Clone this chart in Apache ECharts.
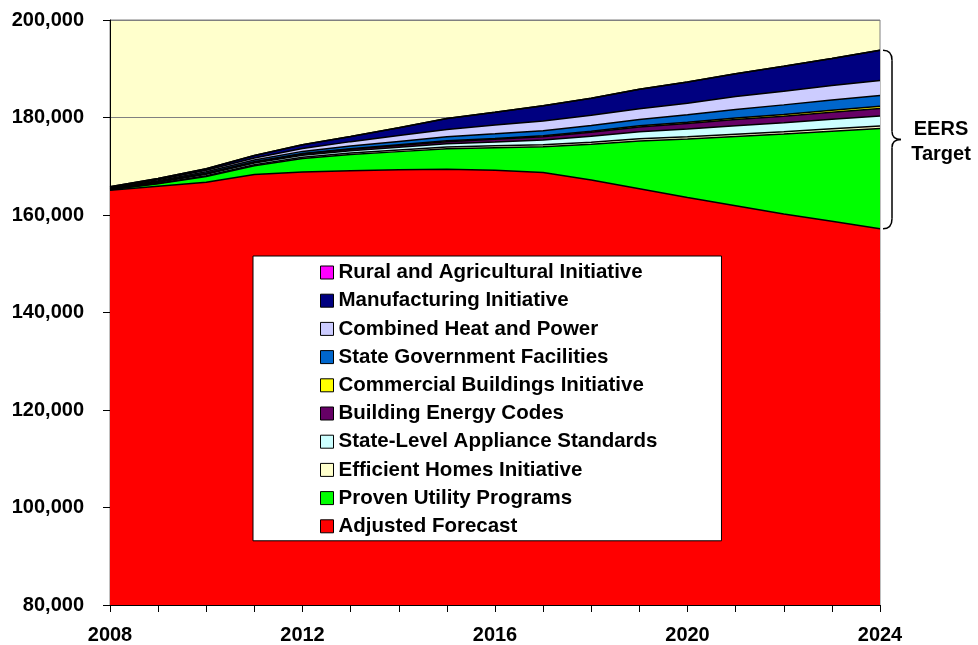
<!DOCTYPE html>
<html>
<head>
<meta charset="utf-8">
<script src="https://cdn.jsdelivr.net/npm/echarts@6/dist/echarts.min.js"></script>
<style>
  html, body { margin: 0; padding: 0; background: #fff; }
  #chart { width: 978px; height: 645px; }
</style>
</head>
<body>
<div id="chart"></div>
<script>
// data (stacked)
const years = ["2008", "2009", "2010", "2011", "2012", "2013", "2014", "2015", "2016",
  "2017", "2018", "2019", "2020", "2021", "2022", "2023", "2024"];
const adjustedForecast = [165100, 165900, 166700, 168300, 168800, 169100, 169300, 169400, 169200,
  168700, 167200, 165400, 163600, 161900, 160200, 158700, 157200];
const provenUtility = [100, 500, 1200, 1800, 2800, 3300, 3700, 4200, 4600,
  5300, 7300, 9800, 12000, 14200, 16400, 18500, 20550];
const efficientHomes = [50, 100, 150, 200, 250, 300, 320, 350, 380, 400, 420, 450, 460, 470, 480, 490, 500];
const applianceStandards = [100, 200, 300, 350, 400, 480, 560, 650, 800, 1000, 1250, 1450, 1600, 1750, 1850, 1950, 2050];
const buildingCodes = [50, 100, 150, 200, 250, 300, 380, 450, 550, 650, 800, 950, 1100, 1250, 1350, 1450, 1550];
const commercialBuildings = [20, 40, 60, 80, 100, 120, 140, 160, 180, 200, 220, 250, 280, 320, 360, 400, 450];
const stateGovernment = [100, 200, 300, 350, 450, 550, 700, 850, 950, 1050, 1150, 1300, 1500, 1750, 1950, 2100, 2200];
const combinedHeatPower = [100, 200, 300, 400, 600, 900, 1200, 1500, 1800, 2000, 2100, 2200, 2400, 2650, 2800, 2950, 3100];
const manufacturing = [180, 260, 340, 520, 750, 1050, 1600, 2240, 2600, 3100, 3500, 4000, 4350, 4700, 5100, 5550, 6200];
const ruralAgricultural = [0, 0, 0, 0, 0, 0, 0, 0, 0, 0, 0, 0, 0, 0, 0, 0, 0];

// bottom to top in the stack
const layers = [
  { name: "Adjusted Forecast", data: adjustedForecast, color: "#FF0000" },
  { name: "Proven Utility Programs", data: provenUtility, color: "#00FF00" },
  { name: "Efficient Homes Initiative", data: efficientHomes, color: "#FFFFCC" },
  { name: "State-Level Appliance Standards", data: applianceStandards, color: "#CCFFFF" },
  { name: "Building Energy Codes", data: buildingCodes, color: "#660066" },
  { name: "Commercial Buildings Initiative", data: commercialBuildings, color: "#FFFF00" },
  { name: "State Government Facilities", data: stateGovernment, color: "#0066CC" },
  { name: "Combined Heat and Power", data: combinedHeatPower, color: "#CCCCFF" },
  { name: "Manufacturing Initiative", data: manufacturing, color: "#000080" },
  { name: "Rural and Agricultural Initiative", data: ruralAgricultural, color: "#FF00FF" },
];

const font = "'Liberation Sans', Arial, sans-serif";
const chart = echarts.init(document.getElementById("chart"));

const option = {
  animation: false,
  backgroundColor: "#fff",
  grid: {
    left: 110, right: 98, top: 20, bottom: 40,
    show: true, backgroundColor: "#FFFFCC", borderColor: "#808080", borderWidth: 1,
  },
  legend: {
    orient: "vertical",
    left: 253,
    top: 256,
    data: layers.map((l) => l.name).reverse(),
    backgroundColor: "#fff",
    borderColor: "#000",
    borderWidth: 1,
    padding: [6, 64, 4, 67],
    itemWidth: 13,
    itemHeight: 13,
    itemGap: 7.2,
    itemStyle: { borderColor: "#000", borderWidth: 1 },
    icon: "rect",
    textStyle: { fontFamily: font, fontWeight: "bold", fontSize: 20.5, color: "#000", lineHeight: 20 },
  },
  xAxis: {
    type: "category",
    data: years,
    boundaryGap: false,
    axisLine: { lineStyle: { color: "#000" } },
    axisTick: { interval: 0, length: 7, lineStyle: { color: "#000" } },
    axisLabel: { interval: 3, margin: 20, fontFamily: font, fontWeight: "bold", fontSize: 20, color: "#000" },
    splitLine: { show: false },
  },
  yAxis: {
    type: "value",
    min: 80000,
    max: 200000,
    interval: 20000,
    axisLine: { show: true, lineStyle: { color: "#000" } },
    axisTick: { show: true, length: 7, lineStyle: { color: "#000" } },
    axisLabel: {
      margin: 26, fontFamily: font, fontWeight: "bold", fontSize: 20, color: "#000",
      formatter: (v) => v.toLocaleString("en-US"),
    },
    splitLine: { show: true, lineStyle: { color: "#808080" } },
  },
  series: layers.map((l) => ({
    name: l.name,
    type: "line",
    stack: "total",
    data: l.data,
    showSymbol: false,
    symbol: "none",
    color: l.color,
    lineStyle: { color: "#000", width: 1.5 },
    areaStyle: { color: l.color, opacity: 1 },
    itemStyle: { color: l.color },
  })),
};
chart.setOption(option);

// brace + label marking the EERS target at the last year
const last = years.length - 1;
const topTotal = layers.reduce((s, l) => s + l.data[last], 0);
const yTop = chart.convertToPixel({ yAxisIndex: 0 }, topTotal);
const yBot = chart.convertToPixel({ yAxisIndex: 0 }, adjustedForecast[last]);
const xEnd = chart.convertToPixel({ xAxisIndex: 0 }, years[last]);
const bx = xEnd + 3, w = 9, ym = (yTop + yBot) / 2;
const braceStyle = { stroke: "#000", lineWidth: 1.5, fill: null };
const curve = (x1, y1, cx, cy, x2, y2) => ({
  type: "bezierCurve", z: 10, silent: true,
  shape: { x1, y1, cpx1: cx, cpy1: cy, x2, y2 }, style: braceStyle,
});
const seg = (x1, y1, x2, y2) => ({
  type: "line", z: 10, silent: true, shape: { x1, y1, x2, y2 }, style: braceStyle,
});

chart.setOption({
  graphic: [
    curve(bx, yTop, bx + w, yTop, bx + w, yTop + 10),
    seg(bx + w, yTop + 10, bx + w, ym - 8),
    curve(bx + w, ym - 8, bx + w, ym, bx + 2 * w, ym),
    curve(bx + 2 * w, ym, bx + w, ym, bx + w, ym + 8),
    seg(bx + w, ym + 8, bx + w, yBot - 10),
    curve(bx + w, yBot - 10, bx + w, yBot, bx, yBot),
    {
      type: "text", x: 941, y: ym + 3, z: 10,
      style: { text: "EERS\nTarget", align: "center", verticalAlign: "middle", lineHeight: 25,
        font: `bold 20px ${font}`, fill: "#000" },
    },
  ],
});
</script>
</body>
</html>
